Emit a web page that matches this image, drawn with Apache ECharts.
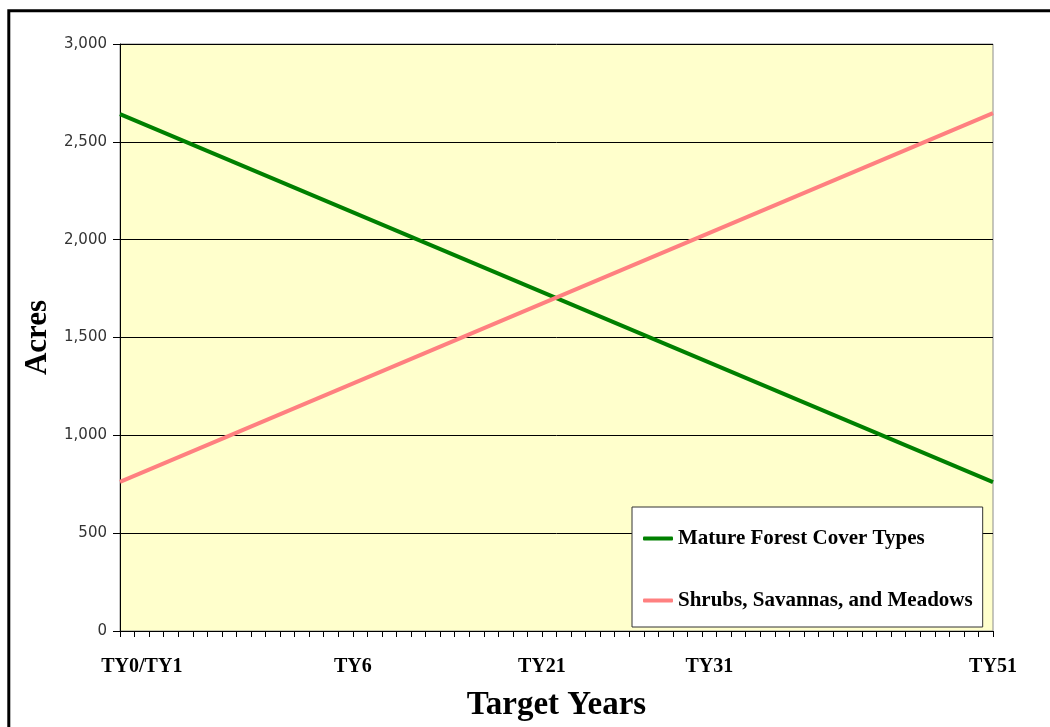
<!DOCTYPE html>
<html>
<head>
<meta charset="utf-8">
<script src="https://cdn.jsdelivr.net/npm/echarts@6/dist/echarts.min.js"></script>
<style>html,body{margin:0;padding:0;background:#fff}#c{width:1050px;height:727px}</style>
</head>
<body>
<div id="c"></div>
<script>
// Axis: 120 half-year steps from start to end (ticks on every other step)
const stepCount = 121;
const tickLabels = ['TY0/TY1', 'TY6', 'TY21', 'TY31', 'TY51'];
const tickLabelSteps = [3, 32, 58, 81, 120];
const seriesNames = ['Mature Forest Cover Types', 'Shrubs, Savannas, and Meadows'];
const matureForest = [[0, 2642], [120, 761]];
const shrubsMeadows = [[0, 762], [120, 2647]];

const categories = [];
for (let i = 0; i < stepCount; i++) {
  const k = tickLabelSteps.indexOf(i);
  categories.push(k >= 0 ? tickLabels[k] : '');
}

const serif = '"Liberation Serif", "Times New Roman", serif';
const chart = echarts.init(document.getElementById('c'));
chart.setOption({
  animation: false,
  backgroundColor: '#ffffff',
  graphic: [{
    type: 'rect', shape: { x: 8.8, y: 10.8, width: 1200, height: 900 },
    style: { fill: 'none', stroke: '#000', lineWidth: 3 }, silent: true
  }],
  grid: {
    left: 120, right: 57, top: 44, bottom: 96,
    show: true, backgroundColor: '#FFFFCC', borderColor: '#8c8c8c', borderWidth: 1
  },
  legend: {
    orient: 'vertical', left: 632, top: 507,
    backgroundColor: '#ffffff', borderColor: '#333', borderWidth: 1,
    padding: [21, 10, 16, 11], itemGap: 41,
    itemWidth: 30, itemHeight: 4, icon: 'roundRect',
    textStyle: { fontFamily: serif, fontWeight: 'bold', fontSize: 21, color: '#000' },
    data: seriesNames
  },
  xAxis: {
    type: 'category', data: categories, boundaryGap: false,
    name: 'Target Years', nameLocation: 'middle', nameGap: 58,
    nameTextStyle: { fontFamily: serif, fontWeight: 'bold', fontSize: 33, color: '#000' },
    axisLine: { lineStyle: { color: '#000', width: 1 } },
    axisTick: { show: true, interval: 1, length: 6, lineStyle: { color: '#000' } },
    axisLabel: {
      interval: 0, margin: 26,
      fontFamily: serif, fontWeight: 'bold', fontSize: 20, color: '#000'
    },
    splitLine: { show: false }
  },
  yAxis: {
    type: 'value', min: 0, max: 3000, interval: 500,
    name: 'Acres', nameLocation: 'middle', nameGap: 66, nameRotate: 90,
    nameTextStyle: { fontFamily: serif, fontWeight: 'bold', fontSize: 31, color: '#000' },
    axisLine: { show: true, lineStyle: { color: '#000', width: 1 } },
    axisTick: { show: true, length: 7, lineStyle: { color: '#000' } },
    axisLabel: {
      margin: 13, fontFamily: '"DejaVu Sans", Verdana, sans-serif', fontSize: 15, color: '#333',
      formatter: v => v.toLocaleString('en-US')
    },
    splitLine: { show: true, lineStyle: { color: '#000', width: 1 } }
  },
  series: [
    { name: seriesNames[0], type: 'line', data: matureForest, symbol: 'none',
      lineStyle: { color: '#008000', width: 4 }, itemStyle: { color: '#008000' } },
    { name: seriesNames[1], type: 'line', data: shrubsMeadows, symbol: 'none',
      lineStyle: { color: '#FF8080', width: 4 }, itemStyle: { color: '#FF8080' } }
  ]
});
</script>
</body>
</html>
